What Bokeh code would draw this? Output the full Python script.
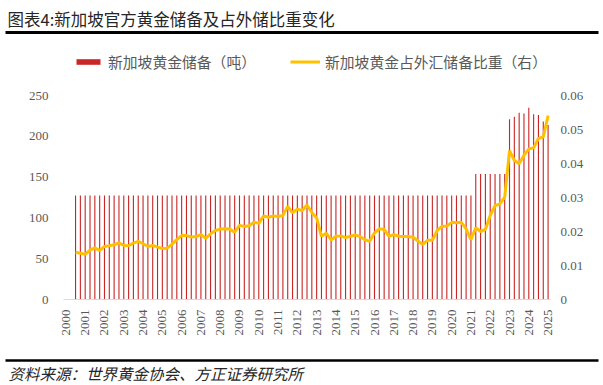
import math
from bokeh.plotting import figure
from bokeh.models import Range1d, LinearAxis, FixedTicker, Legend, LegendItem, ColumnDataSource
from bokeh.layouts import column
from bokeh.embed import file_html
from bokeh.resources import INLINE
from bokeh.core.properties import value

title_text = "图表4:新加坡官方黄金储备及占外储比重变化"
source_text = "资料来源：世界黄金协会、方正证券研究所"
bar_label = "新加坡黄金储备（吨）"
line_label = "新加坡黄金占外汇储备比重（右）"

year_labels = [str(y) for y in range(2000, 2026)]
# quarterly categories 2000Q3 .. 2025Q1
all_quarters = [f"{y}Q{q}" for y in range(2000, 2026) for q in range(1, 5)]
quarters = all_quarters[2:101]

gold_tonnes = [
    127.4, 127.4, 127.4, 127.4, 127.4, 127.4, 127.4, 127.4, 127.4, 127.4,
    127.4, 127.4, 127.4, 127.4, 127.4, 127.4, 127.4, 127.4, 127.4, 127.4,
    127.4, 127.4, 127.4, 127.4, 127.4, 127.4, 127.4, 127.4, 127.4, 127.4,
    127.4, 127.4, 127.4, 127.4, 127.4, 127.4, 127.4, 127.4, 127.4, 127.4,
    127.4, 127.4, 127.4, 127.4, 127.4, 127.4, 127.4, 127.4, 127.4, 127.4,
    127.4, 127.4, 127.4, 127.4, 127.4, 127.4, 127.4, 127.4, 127.4, 127.4,
    127.4, 127.4, 127.4, 127.4, 127.4, 127.4, 127.4, 127.4, 127.4, 127.4,
    127.4, 127.4, 127.4, 127.4, 127.4, 127.4, 127.4, 127.4, 127.4, 127.4,
    127.4, 127.4, 127.4,
    153.8, 153.8, 153.8, 153.8, 153.8, 153.8, 153.8,
    221.0, 224.0, 229.0, 228.0, 235.0, 227.0, 226.0, 218.0, 214.0,
]

gold_share = [
    0.0139, 0.0136, 0.0133, 0.0145, 0.0152, 0.0144, 0.0156, 0.0158, 0.0161, 0.0167,
    0.0159, 0.0158, 0.0166, 0.0171, 0.0164, 0.0156, 0.0159, 0.0154, 0.0150, 0.0151,
    0.0162, 0.0176, 0.0188, 0.0188, 0.0184, 0.0185, 0.0191, 0.0180, 0.0193, 0.0203,
    0.0207, 0.0208, 0.0207, 0.0198, 0.0218, 0.0215, 0.0217, 0.0227, 0.0224, 0.0246,
    0.0242, 0.0246, 0.0244, 0.0247, 0.0274, 0.0255, 0.0266, 0.0261, 0.0278, 0.0256,
    0.0240, 0.0186, 0.0195, 0.0175, 0.0186, 0.0187, 0.0182, 0.0186, 0.0190, 0.0185,
    0.0176, 0.0171, 0.0196, 0.0208, 0.0206, 0.0186, 0.0191, 0.0186, 0.0185, 0.0185,
    0.0183, 0.0172, 0.0162, 0.0174, 0.0174, 0.0203, 0.0215, 0.0216, 0.0227, 0.0226,
    0.0227, 0.0208, 0.0176, 0.0211, 0.0200, 0.0206, 0.0247, 0.0276, 0.0281, 0.0301,
    0.0438, 0.0409, 0.0399, 0.0424, 0.0443, 0.0446, 0.0474, 0.0478, 0.0541,
]

left_ticks = [0, 50, 100, 150, 200, 250]
right_ticks = [0, 0.01, 0.02, 0.03, 0.04, 0.05, 0.06]

xpos = [(int(s[:4]) - 2000) * 4 + int(s[5]) - 1 for s in quarters]
src = ColumnDataSource(dict(x=xpos, q=quarters, t=gold_tonnes, s=gold_share))

W = 603
CJK = "Noto Sans CJK SC"
SERIF = "Liberation Serif"

# header
HH = 40
hdr = figure(width=W, height=HH, x_range=Range1d(0, W), y_range=Range1d(0, HH),
             toolbar_location=None, output_backend="svg", min_border=0,
             x_axis_type=None, y_axis_type=None, outline_line_color=None,
             frame_align=False)
hdr.grid.visible = False
hdr.text(x=[7], y=[HH - 18], text=[title_text], text_font=value(CJK), text_font_size="16.5px",
         text_baseline="middle", text_color="#262626")
hdr.segment(x0=[5], y0=[HH - 32], x1=[598], y1=[HH - 32], line_width=3, line_color="black")

# main chart
MH = 312
ymax_left = 302.7
p = figure(width=W, height=MH, x_range=Range1d(-0.5, 100.5), y_range=Range1d(0, ymax_left),
           toolbar_location=None, output_backend="svg",
           min_border_left=63, min_border_right=53, min_border_top=12, min_border_bottom=53,
           outline_line_color=None, frame_align=False)
p.extra_y_ranges = {"right": Range1d(0, 0.06 * ymax_left / 250)}
p.xgrid.visible = False
p.ygrid.visible = False

bars = p.vbar(x="x", top="t", width=0.23, source=src, fill_color="#C00000", fill_alpha=0.85,
              line_color=None)
ln = p.line(x="x", y="s", source=src, y_range_name="right", line_color="#FFC000", line_width=3)

p.yaxis.ticker = FixedTicker(ticks=left_ticks)
raxis = LinearAxis(y_range_name="right", ticker=FixedTicker(ticks=right_ticks))
raxis.major_label_overrides = {0: "0"}
p.add_layout(raxis, "right")

for ax in [p.yaxis[0], raxis]:
    ax.axis_line_color = None
    ax.major_tick_line_color = None
    ax.minor_tick_line_color = None
    ax.major_tick_out = 0
    ax.major_label_text_font = SERIF
    ax.major_label_text_font_size = "13px"
    ax.major_label_text_color = "#595959"
p.yaxis[0].major_label_standoff = 15
raxis.major_label_standoff = 10

xa = p.xaxis[0]
xa.ticker = FixedTicker(ticks=[i * 4 for i in range(len(year_labels))])
xa.major_label_overrides = {i * 4: y for i, y in enumerate(year_labels)}
xa.major_label_orientation = math.pi / 2
xa.axis_line_color = "#D9D9D9"
xa.major_tick_line_color = None
xa.minor_tick_line_color = None
xa.major_tick_out = 0
xa.major_label_standoff = 10
xa.major_label_text_font = SERIF
xa.major_label_text_font_size = "13px"
xa.major_label_text_color = "#595959"

legend = Legend(items=[LegendItem(label=bar_label, renderers=[bars]),
                       LegendItem(label=line_label, renderers=[ln])],
                orientation="horizontal", location=(10, 227),
                glyph_width=30, glyph_height=7, label_standoff=5, spacing=34,
                padding=0, margin=0, border_line_color=None, background_fill_alpha=0,
                label_text_font=CJK, label_text_font_size="14.8px", label_text_color="#595959")
p.add_layout(legend)

# footer
FH = 33
ftr = figure(width=W, height=FH, x_range=Range1d(0, W), y_range=Range1d(0, FH),
             toolbar_location=None, output_backend="svg", min_border=0,
             x_axis_type=None, y_axis_type=None, outline_line_color=None,
             frame_align=False)
ftr.grid.visible = False
ftr.segment(x0=[5], y0=[FH - 8], x1=[598], y1=[FH - 8], line_width=2.5, line_color="black")
ftr.text(x=[8], y=[FH - 20.5], text=[source_text], text_font=value(CJK), text_font_size="15.5px",
         text_font_style="italic", text_baseline="middle", text_color="#262626")

layout = column(hdr, p, ftr)
open("out.html", "w").write(file_html(layout, INLINE))
